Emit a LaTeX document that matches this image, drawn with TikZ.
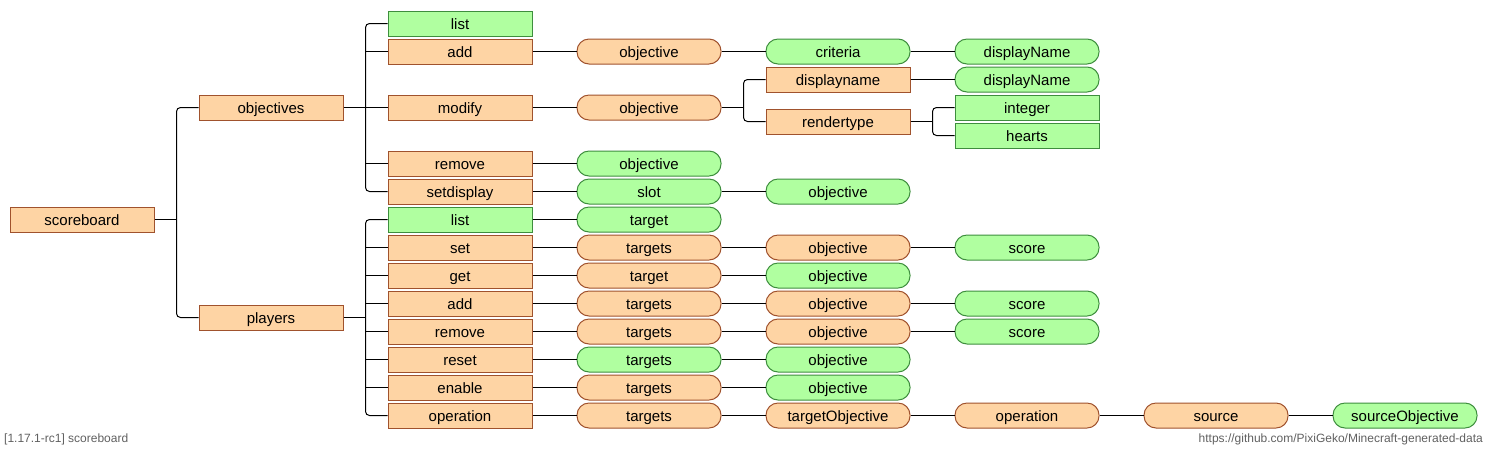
\documentclass[tikz,border=0pt]{standalone}
\usepackage{fontspec}
\setmainfont{Liberation Sans}
\begin{document}
\begin{tikzpicture}[x=1pt,y=-1pt,
  base/.style={draw,line width=1pt,minimum width=144pt,minimum height=25pt,inner sep=0pt,text height=12pt,text depth=1pt,font=\fontsize{15}{15}\selectfont,text=black},
  ob/.style={base,fill=orfill,draw=orline},
  gb/.style={base,fill=grfill,draw=grline},
  op/.style={ob,rounded corners=12pt},
  gp/.style={gb,rounded corners=12pt},
  ln/.style={line width=1pt,black},
  bus/.style={line width=1pt,black,rounded corners=4pt},
  foot/.style={font=\fontsize{12}{12}\selectfont,text=footgray,inner sep=0pt}
]
\definecolor{orfill}{HTML}{FED4A4}
\definecolor{orline}{HTML}{A0522D}
\definecolor{grfill}{HTML}{B0FFA0}
\definecolor{grline}{HTML}{3E8E3E}
\definecolor{footgray}{HTML}{606060}
\useasboundingbox (0,0) rectangle (1487,451);
% bus coordinates
\coordinate (b1) at (176.5,0);
\coordinate (b2) at (365.5,0);
\coordinate (b4) at (743.5,0);
\coordinate (b5) at (932.5,0);
% column 0/1
\node[ob] (sb) at (82,219.5) {scoreboard};
\node[ob] (obj) at (271,107.5) {objectives};
\node[ob] (pl) at (271,317.5) {players};
% objectives children
\node[gb] (olist) at (460,23.5) {list};
\node[ob] (oadd) at (460,51.5) {add};
\node[ob] (omod) at (460,107.5) {modify};
\node[ob] (orem) at (460,163.5) {remove};
\node[ob] (oset) at (460,191.5) {setdisplay};
% add chain
\node[op] (addobj) at (649,51.5) {objective};
\node[gp] (addcrit) at (838,51.5) {criteria};
\node[gp] (adddn) at (1027,51.5) {displayName};
% modify chain
\node[op] (modobj) at (649,107.5) {objective};
\node[ob] (moddn) at (838,79.5) {displayname};
\node[ob] (modrt) at (838,121.5) {rendertype};
\node[gp] (moddnv) at (1027,79.5) {displayName};
\node[gb] (modint) at (1027,107.5) {integer};
\node[gb] (modhrt) at (1027,135.5) {hearts};
% remove / setdisplay
\node[gp] (remobj) at (649,163.5) {objective};
\node[gp] (setslot) at (649,191.5) {slot};
\node[gp] (setobj) at (838,191.5) {objective};
% players children
\node[gb] (plist) at (460,219.5) {list};
\node[ob] (pset) at (460,247.5) {set};
\node[ob] (pget) at (460,275.5) {get};
\node[ob] (padd) at (460,303.5) {add};
\node[ob] (prem) at (460,331.5) {remove};
\node[ob] (pres) at (460,359.5) {reset};
\node[ob] (pen) at (460,387.5) {enable};
\node[ob] (pop) at (460,415.5) {operation};
% players chains
\node[gp] (plistt) at (649,219.5) {target};
\node[op] (psett) at (649,247.5) {targets};
\node[op] (pseto) at (838,247.5) {objective};
\node[gp] (psets) at (1027,247.5) {score};
\node[op] (pgett) at (649,275.5) {target};
\node[gp] (pgeto) at (838,275.5) {objective};
\node[op] (paddt) at (649,303.5) {targets};
\node[op] (paddo) at (838,303.5) {objective};
\node[gp] (padds) at (1027,303.5) {score};
\node[op] (tremt) at (649,331.5) {targets};
\node[op] (tremo) at (838,331.5) {objective};
\node[gp] (trems) at (1027,331.5) {score};
\node[gp] (prest) at (649,359.5) {targets};
\node[gp] (preso) at (838,359.5) {objective};
\node[op] (pent) at (649,387.5) {targets};
\node[gp] (peno) at (838,387.5) {objective};
\node[op] (popt) at (649,415.5) {targets};
\node[op] (poptob) at (838,415.5) {targetObjective};
\node[op] (popop) at (1027,415.5) {operation};
\node[op] (popsrc) at (1216,415.5) {source};
\node[gp] (popso) at (1405,415.5) {sourceObjective};
% footer
\node[foot,anchor=west] (fl) at (4,439) {[1.17.1-rc1] scoreboard};
\node[foot,anchor=east] (fr) at (1483,439) {https://github.com/PixiGeko/Minecraft-generated-data};
% scoreboard bus
\draw[ln] (sb.east) -- (sb.east -| b1);
\draw[bus] (obj.west) -- (obj.west -| b1) -- (pl.west -| b1) -- (pl.west);
% objectives bus
\draw[ln] (obj.east) -- (obj.east -| b2);
\draw[bus] (olist.west) -- (olist.west -| b2) -- (oset.west -| b2) -- (oset.west);
\foreach \n in {oadd,omod,orem} \draw[ln] (\n.west) -- (\n.west -| b2);
% players bus
\draw[ln] (pl.east) -- (pl.east -| b2);
\draw[bus] (plist.west) -- (plist.west -| b2) -- (pop.west -| b2) -- (pop.west);
\foreach \n in {pset,pget,padd,prem,pres,pen} \draw[ln] (\n.west) -- (\n.west -| b2);
% modify objective bus
\draw[ln] (modobj.east) -- (modobj.east -| b4);
\draw[bus] (moddn.west) -- (moddn.west -| b4) -- (modrt.west -| b4) -- (modrt.west);
% rendertype bus
\draw[ln] (modrt.east) -- (modrt.east -| b5);
\draw[bus] (modint.west) -- (modint.west -| b5) -- (modhrt.west -| b5) -- (modhrt.west);
% straight chains
\draw[ln] (oadd) -- (addobj);
\draw[ln] (addobj) -- (addcrit);
\draw[ln] (addcrit) -- (adddn);
\draw[ln] (omod) -- (modobj);
\draw[ln] (moddn) -- (moddnv);
\draw[ln] (orem) -- (remobj);
\draw[ln] (oset) -- (setslot);
\draw[ln] (setslot) -- (setobj);
\draw[ln] (plist) -- (plistt);
\draw[ln] (pset) -- (psett);
\draw[ln] (psett) -- (pseto);
\draw[ln] (pseto) -- (psets);
\draw[ln] (pget) -- (pgett);
\draw[ln] (pgett) -- (pgeto);
\draw[ln] (padd) -- (paddt);
\draw[ln] (paddt) -- (paddo);
\draw[ln] (paddo) -- (padds);
\draw[ln] (prem) -- (tremt);
\draw[ln] (tremt) -- (tremo);
\draw[ln] (tremo) -- (trems);
\draw[ln] (pres) -- (prest);
\draw[ln] (prest) -- (preso);
\draw[ln] (pen) -- (pent);
\draw[ln] (pent) -- (peno);
\draw[ln] (pop) -- (popt);
\draw[ln] (popt) -- (poptob);
\draw[ln] (poptob) -- (popop);
\draw[ln] (popop) -- (popsrc);
\draw[ln] (popsrc) -- (popso);
\end{tikzpicture}
\end{document}
